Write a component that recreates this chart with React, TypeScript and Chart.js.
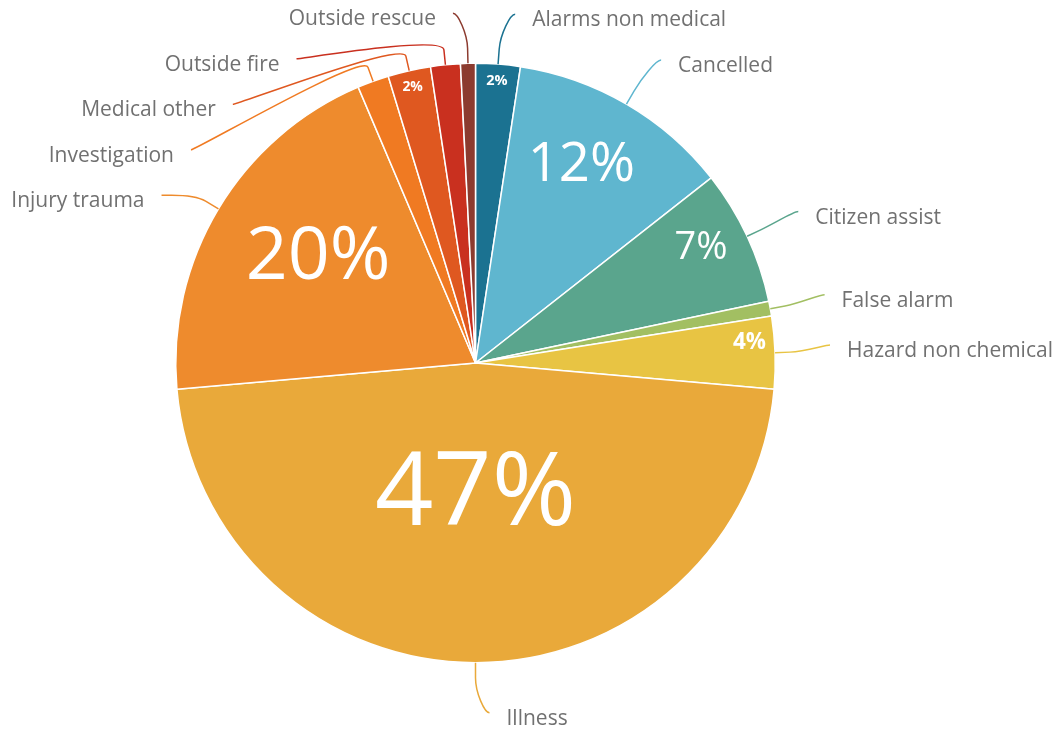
import React, { useEffect, useRef } from "react";
import { Chart, ArcElement, PieController } from "chart.js";

Chart.register(ArcElement, PieController);

const categories = [
  "Alarms non medical",
  "Cancelled",
  "Citizen assist",
  "False alarm",
  "Hazard non chemical",
  "Illness",
  "Injury trauma",
  "Investigation",
  "Medical other",
  "Outside fire",
  "Outside rescue",
];

const shares = [2.4, 12.0, 7.3, 0.8, 3.9, 47.2, 20.0, 1.7, 2.3, 1.6, 0.8];

const sliceColors = [
  "#1b7291",
  "#5fb6cf",
  "#5aa58d",
  "#a2bf62",
  "#e8c443",
  "#e9a93a",
  "#ee8b2d",
  "#f07a22",
  "#df5820",
  "#c9301f",
  "#8c3b2f",
];

const FONT = "'Open Sans', 'Noto Sans', sans-serif";

const labelPlugin = {
  id: "pieLabels",
  afterDatasetsDraw(chart: any) {
    const ctx: CanvasRenderingContext2D = chart.ctx;
    const meta = chart.getDatasetMeta(0);
    const data = chart.data.datasets[0].data as number[];
    const colors = chart.data.datasets[0].backgroundColor as string[];
    const labels = chart.data.labels as string[];
    const total = data.reduce((a, b) => a + b, 0);

    ctx.save();
    // inside percentage labels
    meta.data.forEach((arc: any, i: number) => {
      const { x, y, startAngle, endAngle, outerRadius } = arc.getProps(
        ["x", "y", "startAngle", "endAngle", "outerRadius"],
        true
      );
      const pct = (data[i] / total) * 100;
      if (pct < 2) return;
      const fs =
        102 * (1 - Math.exp(-pct / 15.7)) + Math.max(0, pct - 30) * 0.3;
      const dist = outerRadius - (3 + 0.78 * fs + 0.0088 * fs * fs);
      let mid = (startAngle + endAngle) / 2;
      if (pct >= 3 && pct < 30) {
        // nudge toward the top of the pie
        mid += Math.cos(mid) >= 0 ? -0.045 : 0.07;
      }
      ctx.font = `${fs < 25 ? "bold " : ""}${fs.toFixed(1)}px ${FONT}`;
      ctx.fillStyle = "#ffffff";
      ctx.textAlign = "center";
      ctx.textBaseline = "alphabetic";
      ctx.fillText(
        Math.round(pct) + "%",
        x + dist * Math.cos(mid),
        y + dist * Math.sin(mid) + 0.36 * fs
      );
    });

    // outside category labels with connectors
    type Item = {
      i: number;
      mid: number;
      right: boolean;
      y: number;
      cx: number;
      cy: number;
      r: number;
    };
    const items: Item[] = meta.data.map((arc: any, i: number) => {
      const { x, y, startAngle, endAngle, outerRadius } = arc.getProps(
        ["x", "y", "startAngle", "endAngle", "outerRadius"],
        true
      );
      const mid = (startAngle + endAngle) / 2;
      const s = Math.sin(mid);
      const right = Math.cos(mid) > -1e-3;
      const ly = y + (outerRadius + 44 + (s > 0 ? 12 : 0)) * s;
      return { i, mid, right, y: ly, cx: x, cy: y, r: outerRadius };
    });

    const spacing = 45.5;
    [true, false].forEach((side) => {
      const group = items
        .filter((it) => it.right === side)
        .sort((a, b) => a.y - b.y);
      for (let k = 1; k < group.length; k++) {
        if (group[k].y < group[k - 1].y + spacing)
          group[k].y = group[k - 1].y + spacing;
      }
    });

    ctx.font = `21px ${FONT}`;
    ctx.textBaseline = "middle";
    items.forEach((it) => {
      const { cx, cy, r, mid, right } = it;
      const Rx = r + 41;
      const dy = it.y - cy;
      const yBased = Math.sqrt(Math.max(0, Rx * Rx - dy * dy));
      const angleBased = Rx * Math.abs(Math.cos(mid));
      const dxL = Math.max(yBased, angleBased);
      const textX = right ? cx + dxL + 31 : cx - dxL - 31;
      const endX = right ? textX - 17 : textX + 17;
      const endY = it.y - 6;
      const tx = cx + r * Math.cos(mid);
      const ty = cy + r * Math.sin(mid);
      const bx = cx + (r + 15) * Math.cos(mid);
      const by = cy + (r + 15) * Math.sin(mid);

      ctx.beginPath();
      ctx.moveTo(endX, endY);
      ctx.bezierCurveTo(
        endX + (right ? -5 : 5),
        endY,
        2 * bx - tx,
        2 * by - ty,
        bx,
        by
      );
      ctx.lineTo(tx, ty);
      ctx.strokeStyle = colors[it.i];
      ctx.lineWidth = 1.5;
      ctx.stroke();

      ctx.fillStyle = "#717171";
      ctx.textAlign = right ? "left" : "right";
      ctx.fillText(labels[it.i], textX, it.y);
    });
    ctx.restore();
  },
};

export default function App() {
  const canvasRef = useRef<HTMLCanvasElement | null>(null);

  useEffect(() => {
    document.body.style.margin = "0";
    const canvas = canvasRef.current;
    if (!canvas) return;
    const chart = new Chart(canvas, {
      type: "pie",
      data: {
        labels: categories,
        datasets: [
          {
            data: shares,
            backgroundColor: sliceColors,
            borderColor: "#ffffff",
            borderWidth: 1.5,
          },
        ],
      },
      options: {
        animation: false,
        responsive: true,
        maintainAspectRatio: false,
        layout: {
          padding: { left: 175, top: 62, right: 286, bottom: 69 },
        },
        plugins: {
          legend: { display: false },
          tooltip: { enabled: false },
        },
      },
      plugins: [labelPlugin],
    });
    return () => chart.destroy();
  }, []);

  return (
    <div
      style={{ width: 1062, height: 733, position: "relative", background: "#fff" }}
    >
      <canvas ref={canvasRef} />
    </div>
  );
}
